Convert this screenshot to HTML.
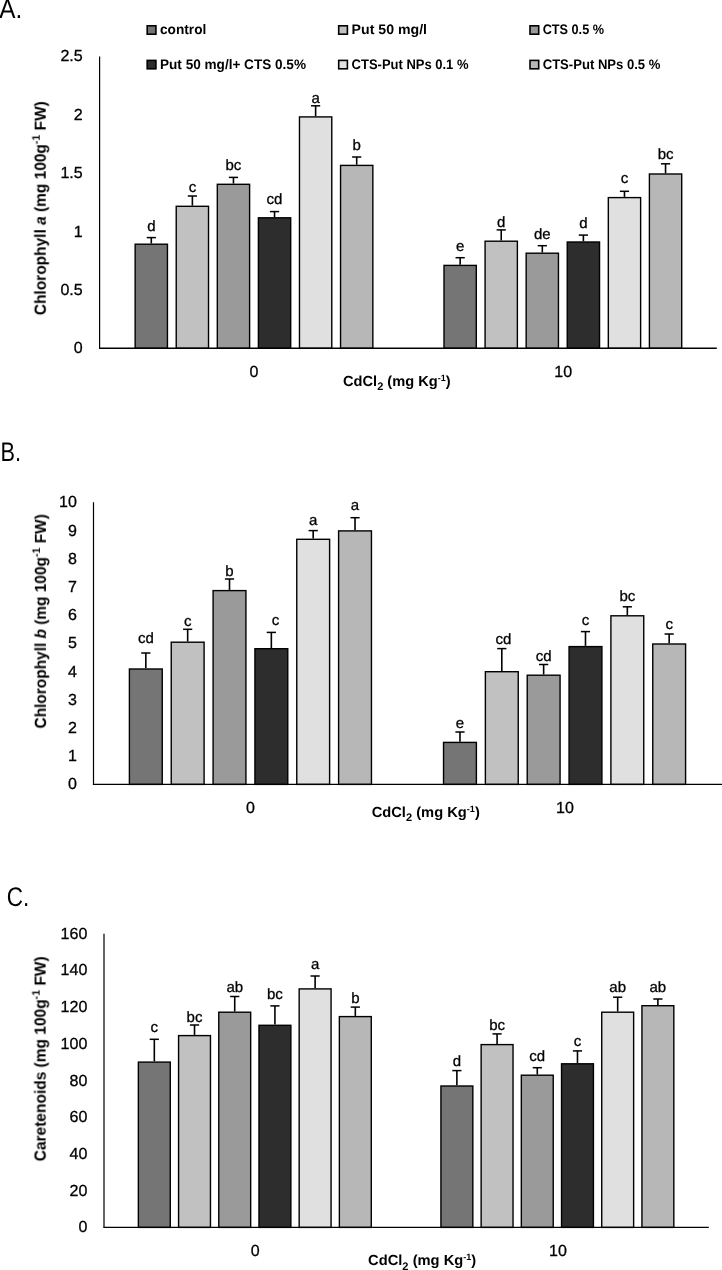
<!DOCTYPE html><html><head><meta charset="utf-8"><style>html,body{margin:0;padding:0;background:#fff;}svg{display:block;} text{will-change:transform;} .r{stroke:#000;stroke-width:0.3px;}</style></head><body>
<svg width="722" height="1270" viewBox="0 0 722 1270" text-rendering="geometricPrecision" font-family='"Liberation Sans", sans-serif'>
<rect x="0" y="0" width="722" height="1270" fill="#fff"/>
<rect x="147.20" y="25.80" width="8.7" height="8.4" fill="#757575" stroke="#000" stroke-width="1.6"/>
<text x="160.0" y="34.1" font-size="13.8" font-weight="bold" textLength="46.3" lengthAdjust="spacingAndGlyphs">control</text>
<rect x="338.70" y="25.80" width="8.7" height="8.4" fill="#c1c1c1" stroke="#000" stroke-width="1.6"/>
<text x="351.6" y="34.1" font-size="13.8" font-weight="bold" textLength="75.4" lengthAdjust="spacingAndGlyphs">Put 50 mg/l</text>
<rect x="530.00" y="25.80" width="8.7" height="8.4" fill="#9a9a9a" stroke="#000" stroke-width="1.6"/>
<text x="542.7" y="34.1" font-size="13.8" font-weight="bold" textLength="61.3" lengthAdjust="spacingAndGlyphs">CTS 0.5 %</text>
<rect x="147.20" y="60.40" width="8.7" height="8.4" fill="#2d2d2d" stroke="#000" stroke-width="1.6"/>
<text x="160.0" y="69.0" font-size="13.8" font-weight="bold" textLength="146.0" lengthAdjust="spacingAndGlyphs">Put 50 mg/l+ CTS 0.5%</text>
<rect x="338.70" y="60.40" width="8.7" height="8.4" fill="#e0e0e0" stroke="#000" stroke-width="1.6"/>
<text x="351.6" y="69.0" font-size="13.8" font-weight="bold" textLength="116.9" lengthAdjust="spacingAndGlyphs">CTS-Put NPs 0.1 %</text>
<rect x="530.00" y="60.40" width="8.7" height="8.4" fill="#b7b7b7" stroke="#000" stroke-width="1.6"/>
<text x="542.7" y="69.0" font-size="13.8" font-weight="bold" textLength="117.7" lengthAdjust="spacingAndGlyphs">CTS-Put NPs 0.5 %</text>
<text x="-0.8" y="17.6" font-size="27" textLength="23.0" lengthAdjust="spacingAndGlyphs">A.</text>
<text x="82.7" y="353.3" font-size="16" text-anchor="end" class="r">0</text>
<text x="82.7" y="294.9" font-size="16" text-anchor="end" class="r">0.5</text>
<text x="82.7" y="236.5" font-size="16" text-anchor="end" class="r">1</text>
<text x="82.7" y="178.2" font-size="16" text-anchor="end" class="r">1.5</text>
<text x="82.7" y="119.8" font-size="16" text-anchor="end" class="r">2</text>
<text x="82.7" y="61.4" font-size="16" text-anchor="end" class="r">2.5</text>
<rect x="135.15" y="244.20" width="32.30" height="104.10" fill="#757575" stroke="#000" stroke-width="1.4"/>
<line x1="151.30" y1="243.50" x2="151.30" y2="237.60" stroke="#000" stroke-width="1.6"/>
<line x1="146.70" y1="237.60" x2="155.90" y2="237.60" stroke="#000" stroke-width="1.5"/>
<text x="151.30" y="230.6" font-size="15" text-anchor="middle" class="r">d</text>
<rect x="176.23" y="206.30" width="32.30" height="142.00" fill="#c1c1c1" stroke="#000" stroke-width="1.4"/>
<line x1="192.38" y1="205.60" x2="192.38" y2="196.00" stroke="#000" stroke-width="1.6"/>
<line x1="187.78" y1="196.00" x2="196.98" y2="196.00" stroke="#000" stroke-width="1.5"/>
<text x="192.38" y="191.9" font-size="15" text-anchor="middle" class="r">c</text>
<rect x="217.31" y="184.30" width="32.30" height="164.00" fill="#9a9a9a" stroke="#000" stroke-width="1.4"/>
<line x1="233.46" y1="183.60" x2="233.46" y2="177.40" stroke="#000" stroke-width="1.6"/>
<line x1="228.86" y1="177.40" x2="238.06" y2="177.40" stroke="#000" stroke-width="1.5"/>
<text x="233.46" y="169.6" font-size="15" text-anchor="middle" class="r">bc</text>
<rect x="258.39" y="217.80" width="32.30" height="130.50" fill="#2d2d2d" stroke="#000" stroke-width="1.4"/>
<line x1="274.54" y1="217.10" x2="274.54" y2="211.60" stroke="#000" stroke-width="1.6"/>
<line x1="269.94" y1="211.60" x2="279.14" y2="211.60" stroke="#000" stroke-width="1.5"/>
<text x="274.54" y="203.8" font-size="15" text-anchor="middle" class="r">cd</text>
<rect x="299.47" y="116.90" width="32.30" height="231.40" fill="#e0e0e0" stroke="#000" stroke-width="1.4"/>
<line x1="315.62" y1="116.20" x2="315.62" y2="105.80" stroke="#000" stroke-width="1.6"/>
<line x1="311.02" y1="105.80" x2="320.22" y2="105.80" stroke="#000" stroke-width="1.5"/>
<text x="315.62" y="102.5" font-size="15" text-anchor="middle" class="r">a</text>
<rect x="340.55" y="165.40" width="32.30" height="182.90" fill="#b7b7b7" stroke="#000" stroke-width="1.4"/>
<line x1="356.70" y1="164.70" x2="356.70" y2="157.00" stroke="#000" stroke-width="1.6"/>
<line x1="352.10" y1="157.00" x2="361.30" y2="157.00" stroke="#000" stroke-width="1.5"/>
<text x="356.70" y="150.3" font-size="15" text-anchor="middle" class="r">b</text>
<rect x="444.00" y="265.40" width="32.30" height="82.90" fill="#757575" stroke="#000" stroke-width="1.4"/>
<line x1="460.15" y1="264.70" x2="460.15" y2="257.70" stroke="#000" stroke-width="1.6"/>
<line x1="455.55" y1="257.70" x2="464.75" y2="257.70" stroke="#000" stroke-width="1.5"/>
<text x="460.15" y="250.7" font-size="15" text-anchor="middle" class="r">e</text>
<rect x="485.08" y="241.20" width="32.30" height="107.10" fill="#c1c1c1" stroke="#000" stroke-width="1.4"/>
<line x1="501.23" y1="240.50" x2="501.23" y2="229.90" stroke="#000" stroke-width="1.6"/>
<line x1="496.63" y1="229.90" x2="505.83" y2="229.90" stroke="#000" stroke-width="1.5"/>
<text x="501.23" y="226.9" font-size="15" text-anchor="middle" class="r">d</text>
<rect x="526.16" y="253.20" width="32.30" height="95.10" fill="#9a9a9a" stroke="#000" stroke-width="1.4"/>
<line x1="542.31" y1="252.50" x2="542.31" y2="245.70" stroke="#000" stroke-width="1.6"/>
<line x1="537.71" y1="245.70" x2="546.91" y2="245.70" stroke="#000" stroke-width="1.5"/>
<text x="542.31" y="238.6" font-size="15" text-anchor="middle" class="r">de</text>
<rect x="567.24" y="242.00" width="32.30" height="106.30" fill="#2d2d2d" stroke="#000" stroke-width="1.4"/>
<line x1="583.39" y1="241.30" x2="583.39" y2="235.10" stroke="#000" stroke-width="1.6"/>
<line x1="578.79" y1="235.10" x2="587.99" y2="235.10" stroke="#000" stroke-width="1.5"/>
<text x="583.39" y="227.9" font-size="15" text-anchor="middle" class="r">d</text>
<rect x="608.32" y="197.60" width="32.30" height="150.70" fill="#e0e0e0" stroke="#000" stroke-width="1.4"/>
<line x1="624.47" y1="196.90" x2="624.47" y2="191.30" stroke="#000" stroke-width="1.6"/>
<line x1="619.87" y1="191.30" x2="629.07" y2="191.30" stroke="#000" stroke-width="1.5"/>
<text x="624.47" y="183.2" font-size="15" text-anchor="middle" class="r">c</text>
<rect x="649.40" y="174.00" width="32.30" height="174.30" fill="#b7b7b7" stroke="#000" stroke-width="1.4"/>
<line x1="665.55" y1="173.30" x2="665.55" y2="163.80" stroke="#000" stroke-width="1.6"/>
<line x1="660.95" y1="163.80" x2="670.15" y2="163.80" stroke="#000" stroke-width="1.5"/>
<text x="665.55" y="159.4" font-size="15" text-anchor="middle" class="r">bc</text>
<line x1="99.60" y1="56.40" x2="99.60" y2="348.30" stroke="#000" stroke-width="1.2"/>
<line x1="99.00" y1="348.30" x2="716.80" y2="348.30" stroke="#000" stroke-width="1.4"/>
<text x="254.0" y="376.8" font-size="16" text-anchor="middle" class="r">0</text>
<text x="563.2" y="376.8" font-size="16" text-anchor="middle" class="r">10</text>
<text x="343.0" y="386.1" font-size="14.6" font-weight="bold" textLength="107.7" lengthAdjust="spacingAndGlyphs">CdCl<tspan font-size="11" dy="4.3">2</tspan><tspan dy="-4.3"> (mg Kg</tspan><tspan font-size="9" dy="-5">-1</tspan><tspan dy="5">)</tspan></text>
<text transform="translate(45.7,315.2) rotate(-90)" x="0" y="0" font-size="16" font-weight="bold" textLength="214.0" lengthAdjust="spacingAndGlyphs">Chlorophyll <tspan font-style="italic">a</tspan> (mg 100g<tspan font-size="11" dy="-6">-1</tspan><tspan dy="6"> FW)</tspan></text>
<text x="0.6" y="461.2" font-size="27" textLength="20.5" lengthAdjust="spacingAndGlyphs">B.</text>
<text x="76.9" y="789.4" font-size="16" text-anchor="end" class="r">0</text>
<text x="76.9" y="761.2" font-size="16" text-anchor="end" class="r">1</text>
<text x="76.9" y="733.0" font-size="16" text-anchor="end" class="r">2</text>
<text x="76.9" y="704.8" font-size="16" text-anchor="end" class="r">3</text>
<text x="76.9" y="676.6" font-size="16" text-anchor="end" class="r">4</text>
<text x="76.9" y="648.4" font-size="16" text-anchor="end" class="r">5</text>
<text x="76.9" y="620.1" font-size="16" text-anchor="end" class="r">6</text>
<text x="76.9" y="591.9" font-size="16" text-anchor="end" class="r">7</text>
<text x="76.9" y="563.7" font-size="16" text-anchor="end" class="r">8</text>
<text x="76.9" y="535.5" font-size="16" text-anchor="end" class="r">9</text>
<text x="76.9" y="507.3" font-size="16" text-anchor="end" class="r">10</text>
<rect x="129.40" y="669.00" width="32.85" height="115.40" fill="#757575" stroke="#000" stroke-width="1.4"/>
<line x1="145.83" y1="668.30" x2="145.83" y2="653.00" stroke="#000" stroke-width="1.6"/>
<line x1="141.23" y1="653.00" x2="150.43" y2="653.00" stroke="#000" stroke-width="1.5"/>
<text x="145.83" y="643.1" font-size="15" text-anchor="middle" class="r">cd</text>
<rect x="171.24" y="642.20" width="32.85" height="142.20" fill="#c1c1c1" stroke="#000" stroke-width="1.4"/>
<line x1="187.67" y1="641.50" x2="187.67" y2="629.30" stroke="#000" stroke-width="1.6"/>
<line x1="183.07" y1="629.30" x2="192.27" y2="629.30" stroke="#000" stroke-width="1.5"/>
<text x="187.67" y="626.3" font-size="15" text-anchor="middle" class="r">c</text>
<rect x="213.08" y="590.60" width="32.85" height="193.80" fill="#9a9a9a" stroke="#000" stroke-width="1.4"/>
<line x1="229.51" y1="589.90" x2="229.51" y2="579.00" stroke="#000" stroke-width="1.6"/>
<line x1="224.91" y1="579.00" x2="234.11" y2="579.00" stroke="#000" stroke-width="1.5"/>
<text x="229.51" y="575.9" font-size="15" text-anchor="middle" class="r">b</text>
<rect x="254.92" y="648.70" width="32.85" height="135.70" fill="#2d2d2d" stroke="#000" stroke-width="1.4"/>
<line x1="271.35" y1="648.00" x2="271.35" y2="632.40" stroke="#000" stroke-width="1.6"/>
<line x1="266.75" y1="632.40" x2="275.95" y2="632.40" stroke="#000" stroke-width="1.5"/>
<text x="275.50" y="624.7" font-size="15" text-anchor="middle" class="r">c</text>
<rect x="296.76" y="539.30" width="32.85" height="245.10" fill="#e0e0e0" stroke="#000" stroke-width="1.4"/>
<line x1="313.19" y1="538.60" x2="313.19" y2="530.60" stroke="#000" stroke-width="1.6"/>
<line x1="308.59" y1="530.60" x2="317.79" y2="530.60" stroke="#000" stroke-width="1.5"/>
<text x="313.19" y="525.1" font-size="15" text-anchor="middle" class="r">a</text>
<rect x="338.60" y="530.90" width="32.85" height="253.50" fill="#b7b7b7" stroke="#000" stroke-width="1.4"/>
<line x1="355.03" y1="530.20" x2="355.03" y2="517.70" stroke="#000" stroke-width="1.6"/>
<line x1="350.43" y1="517.70" x2="359.63" y2="517.70" stroke="#000" stroke-width="1.5"/>
<text x="355.03" y="510.4" font-size="15" text-anchor="middle" class="r">a</text>
<rect x="443.54" y="742.40" width="32.85" height="42.00" fill="#757575" stroke="#000" stroke-width="1.4"/>
<line x1="459.97" y1="741.70" x2="459.97" y2="732.00" stroke="#000" stroke-width="1.6"/>
<line x1="455.37" y1="732.00" x2="464.57" y2="732.00" stroke="#000" stroke-width="1.5"/>
<text x="459.97" y="727.7" font-size="15" text-anchor="middle" class="r">e</text>
<rect x="485.38" y="671.70" width="32.85" height="112.70" fill="#c1c1c1" stroke="#000" stroke-width="1.4"/>
<line x1="501.81" y1="671.00" x2="501.81" y2="648.60" stroke="#000" stroke-width="1.6"/>
<line x1="497.20" y1="648.60" x2="506.41" y2="648.60" stroke="#000" stroke-width="1.5"/>
<text x="503.50" y="643.7" font-size="15" text-anchor="middle" class="r">cd</text>
<rect x="527.22" y="675.20" width="32.85" height="109.20" fill="#9a9a9a" stroke="#000" stroke-width="1.4"/>
<line x1="543.64" y1="674.50" x2="543.64" y2="664.50" stroke="#000" stroke-width="1.6"/>
<line x1="539.04" y1="664.50" x2="548.25" y2="664.50" stroke="#000" stroke-width="1.5"/>
<text x="543.64" y="660.7" font-size="15" text-anchor="middle" class="r">cd</text>
<rect x="569.06" y="646.60" width="32.85" height="137.80" fill="#2d2d2d" stroke="#000" stroke-width="1.4"/>
<line x1="585.49" y1="645.90" x2="585.49" y2="631.60" stroke="#000" stroke-width="1.6"/>
<line x1="580.88" y1="631.60" x2="590.09" y2="631.60" stroke="#000" stroke-width="1.5"/>
<text x="585.49" y="624.7" font-size="15" text-anchor="middle" class="r">c</text>
<rect x="610.90" y="615.80" width="32.85" height="168.60" fill="#e0e0e0" stroke="#000" stroke-width="1.4"/>
<line x1="627.33" y1="615.10" x2="627.33" y2="606.80" stroke="#000" stroke-width="1.6"/>
<line x1="622.73" y1="606.80" x2="631.93" y2="606.80" stroke="#000" stroke-width="1.5"/>
<text x="627.33" y="601.1" font-size="15" text-anchor="middle" class="r">bc</text>
<rect x="652.74" y="644.00" width="32.85" height="140.40" fill="#b7b7b7" stroke="#000" stroke-width="1.4"/>
<line x1="669.16" y1="643.30" x2="669.16" y2="634.00" stroke="#000" stroke-width="1.6"/>
<line x1="664.56" y1="634.00" x2="673.76" y2="634.00" stroke="#000" stroke-width="1.5"/>
<text x="669.16" y="629.3" font-size="15" text-anchor="middle" class="r">c</text>
<line x1="93.50" y1="502.30" x2="93.50" y2="784.40" stroke="#000" stroke-width="1.2"/>
<line x1="92.90" y1="784.40" x2="722.00" y2="784.40" stroke="#000" stroke-width="1.4"/>
<text x="250.5" y="812.9" font-size="16" text-anchor="middle" class="r">0</text>
<text x="565.0" y="812.9" font-size="16" text-anchor="middle" class="r">10</text>
<text x="371.7" y="816.6" font-size="14.6" font-weight="bold" textLength="108.1" lengthAdjust="spacingAndGlyphs">CdCl<tspan font-size="11" dy="4.3">2</tspan><tspan dy="-4.3"> (mg Kg</tspan><tspan font-size="9" dy="-5">-1</tspan><tspan dy="5">)</tspan></text>
<text transform="translate(45.9,728.5) rotate(-90)" x="0" y="0" font-size="16" font-weight="bold" textLength="214.3" lengthAdjust="spacingAndGlyphs">Chlorophyll <tspan font-style="italic">b</tspan> (mg 100g<tspan font-size="11" dy="-6">-1</tspan><tspan dy="6"> FW)</tspan></text>
<text x="6.8" y="905.8" font-size="27" textLength="22.5" lengthAdjust="spacingAndGlyphs">C.</text>
<text x="87.3" y="1232.4" font-size="16" text-anchor="end" class="r">0</text>
<text x="87.3" y="1195.7" font-size="16" text-anchor="end" class="r">20</text>
<text x="87.3" y="1159.0" font-size="16" text-anchor="end" class="r">40</text>
<text x="87.3" y="1122.3" font-size="16" text-anchor="end" class="r">60</text>
<text x="87.3" y="1085.6" font-size="16" text-anchor="end" class="r">80</text>
<text x="87.3" y="1048.8" font-size="16" text-anchor="end" class="r">100</text>
<text x="87.3" y="1012.1" font-size="16" text-anchor="end" class="r">120</text>
<text x="87.3" y="975.4" font-size="16" text-anchor="end" class="r">140</text>
<text x="87.3" y="938.7" font-size="16" text-anchor="end" class="r">160</text>
<rect x="138.37" y="1062.10" width="31.90" height="165.30" fill="#757575" stroke="#000" stroke-width="1.4"/>
<line x1="154.32" y1="1061.40" x2="154.32" y2="1039.30" stroke="#000" stroke-width="1.6"/>
<line x1="149.72" y1="1039.30" x2="158.92" y2="1039.30" stroke="#000" stroke-width="1.5"/>
<text x="154.32" y="1031.8" font-size="15" text-anchor="middle" class="r">c</text>
<rect x="178.57" y="1035.60" width="31.90" height="191.80" fill="#c1c1c1" stroke="#000" stroke-width="1.4"/>
<line x1="194.52" y1="1034.90" x2="194.52" y2="1025.00" stroke="#000" stroke-width="1.6"/>
<line x1="189.92" y1="1025.00" x2="199.12" y2="1025.00" stroke="#000" stroke-width="1.5"/>
<text x="194.52" y="1021.6" font-size="15" text-anchor="middle" class="r">bc</text>
<rect x="218.77" y="1012.20" width="31.90" height="215.20" fill="#9a9a9a" stroke="#000" stroke-width="1.4"/>
<line x1="234.72" y1="1011.50" x2="234.72" y2="996.50" stroke="#000" stroke-width="1.6"/>
<line x1="230.12" y1="996.50" x2="239.32" y2="996.50" stroke="#000" stroke-width="1.5"/>
<text x="234.72" y="991.6" font-size="15" text-anchor="middle" class="r">ab</text>
<rect x="258.97" y="1025.30" width="31.90" height="202.10" fill="#2d2d2d" stroke="#000" stroke-width="1.4"/>
<line x1="274.92" y1="1024.60" x2="274.92" y2="1005.90" stroke="#000" stroke-width="1.6"/>
<line x1="270.32" y1="1005.90" x2="279.52" y2="1005.90" stroke="#000" stroke-width="1.5"/>
<text x="274.92" y="999.3" font-size="15" text-anchor="middle" class="r">bc</text>
<rect x="299.17" y="988.90" width="31.90" height="238.50" fill="#e0e0e0" stroke="#000" stroke-width="1.4"/>
<line x1="315.12" y1="988.20" x2="315.12" y2="976.00" stroke="#000" stroke-width="1.6"/>
<line x1="310.52" y1="976.00" x2="319.72" y2="976.00" stroke="#000" stroke-width="1.5"/>
<text x="315.12" y="968.5" font-size="15" text-anchor="middle" class="r">a</text>
<rect x="339.37" y="1016.60" width="31.90" height="210.80" fill="#b7b7b7" stroke="#000" stroke-width="1.4"/>
<line x1="355.32" y1="1015.90" x2="355.32" y2="1007.10" stroke="#000" stroke-width="1.6"/>
<line x1="350.72" y1="1007.10" x2="359.92" y2="1007.10" stroke="#000" stroke-width="1.5"/>
<text x="355.32" y="1002.5" font-size="15" text-anchor="middle" class="r">b</text>
<rect x="440.93" y="1086.00" width="31.90" height="141.40" fill="#757575" stroke="#000" stroke-width="1.4"/>
<line x1="456.88" y1="1085.30" x2="456.88" y2="1070.60" stroke="#000" stroke-width="1.6"/>
<line x1="452.28" y1="1070.60" x2="461.48" y2="1070.60" stroke="#000" stroke-width="1.5"/>
<text x="456.88" y="1065.7" font-size="15" text-anchor="middle" class="r">d</text>
<rect x="481.13" y="1044.60" width="31.90" height="182.80" fill="#c1c1c1" stroke="#000" stroke-width="1.4"/>
<line x1="497.08" y1="1043.90" x2="497.08" y2="1033.90" stroke="#000" stroke-width="1.6"/>
<line x1="492.48" y1="1033.90" x2="501.68" y2="1033.90" stroke="#000" stroke-width="1.5"/>
<text x="497.08" y="1030.4" font-size="15" text-anchor="middle" class="r">bc</text>
<rect x="521.33" y="1075.20" width="31.90" height="152.20" fill="#9a9a9a" stroke="#000" stroke-width="1.4"/>
<line x1="537.28" y1="1074.50" x2="537.28" y2="1067.70" stroke="#000" stroke-width="1.6"/>
<line x1="532.68" y1="1067.70" x2="541.88" y2="1067.70" stroke="#000" stroke-width="1.5"/>
<text x="537.28" y="1061.1" font-size="15" text-anchor="middle" class="r">cd</text>
<rect x="561.53" y="1063.80" width="31.90" height="163.60" fill="#2d2d2d" stroke="#000" stroke-width="1.4"/>
<line x1="577.48" y1="1063.10" x2="577.48" y2="1050.90" stroke="#000" stroke-width="1.6"/>
<line x1="572.88" y1="1050.90" x2="582.08" y2="1050.90" stroke="#000" stroke-width="1.5"/>
<text x="577.48" y="1046.0" font-size="15" text-anchor="middle" class="r">c</text>
<rect x="601.73" y="1012.20" width="31.90" height="215.20" fill="#e0e0e0" stroke="#000" stroke-width="1.4"/>
<line x1="617.68" y1="1011.50" x2="617.68" y2="997.20" stroke="#000" stroke-width="1.6"/>
<line x1="613.08" y1="997.20" x2="622.28" y2="997.20" stroke="#000" stroke-width="1.5"/>
<text x="617.68" y="992.4" font-size="15" text-anchor="middle" class="r">ab</text>
<rect x="641.93" y="1005.70" width="31.90" height="221.70" fill="#b7b7b7" stroke="#000" stroke-width="1.4"/>
<line x1="657.88" y1="1005.00" x2="657.88" y2="999.00" stroke="#000" stroke-width="1.6"/>
<line x1="653.28" y1="999.00" x2="662.48" y2="999.00" stroke="#000" stroke-width="1.5"/>
<text x="657.88" y="991.5" font-size="15" text-anchor="middle" class="r">ab</text>
<line x1="104.00" y1="933.70" x2="104.00" y2="1227.40" stroke="#000" stroke-width="1.2"/>
<line x1="103.40" y1="1227.40" x2="708.80" y2="1227.40" stroke="#000" stroke-width="1.4"/>
<text x="255.2" y="1255.8" font-size="16" text-anchor="middle" class="r">0</text>
<text x="558.0" y="1255.8" font-size="16" text-anchor="middle" class="r">10</text>
<text x="368.1" y="1265.2" font-size="14.6" font-weight="bold" textLength="108.1" lengthAdjust="spacingAndGlyphs">CdCl<tspan font-size="11" dy="4.3">2</tspan><tspan dy="-4.3"> (mg Kg</tspan><tspan font-size="9" dy="-5">-1</tspan><tspan dy="5">)</tspan></text>
<text transform="translate(45.6,1161.3) rotate(-90)" x="0" y="0" font-size="16" font-weight="bold" textLength="204.9" lengthAdjust="spacingAndGlyphs">Caretenoids (mg 100g<tspan font-size="11" dy="-6">-1</tspan><tspan dy="6"> FW)</tspan></text>
</svg></body></html>
